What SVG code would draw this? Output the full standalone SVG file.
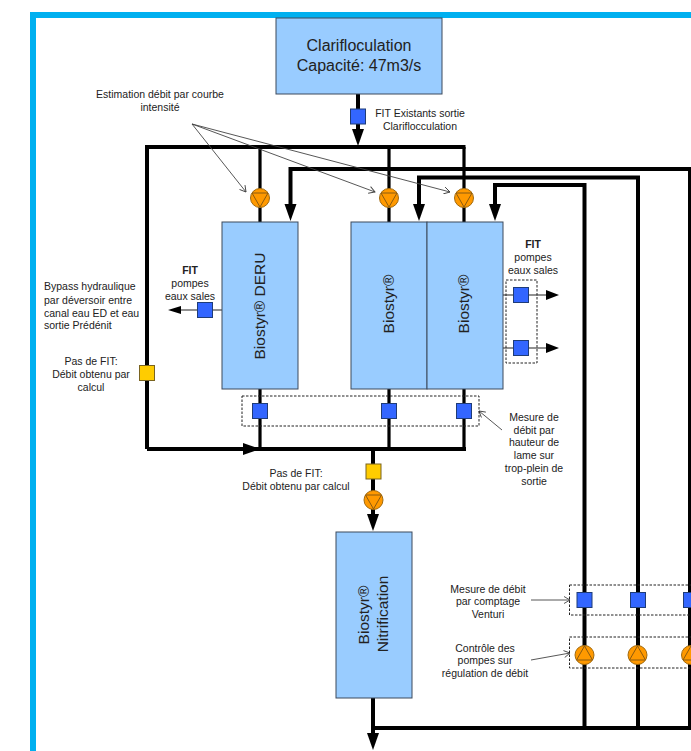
<svg xmlns="http://www.w3.org/2000/svg" width="691" height="751" viewBox="0 0 691 751">
<style>
text{font-family:"Liberation Sans",Arial,sans-serif;fill:#222;font-size:10.500px;text-anchor:middle}
text.big{font-size:16px}
text.rot{font-size:15.500px}
text.left{text-anchor:start}
.box{fill:#99ccff;stroke:#3c4a5c;stroke-width:1}
.pipe{fill:none;stroke:#000;stroke-width:4}
.branch{fill:none;stroke:#000;stroke-width:3.200}
.thin{fill:none;stroke:#222;stroke-width:1.200}
.note{fill:none;stroke:#444;stroke-width:.9}
.dash{fill:none;stroke:#222;stroke-width:1;stroke-dasharray:2.500 1.500}
.fit{fill:#3366ff;stroke:#1f3c78;stroke-width:1}
.yel{fill:#ffcc00;stroke:#7a6420;stroke-width:1}
.pc{fill:#ff9900;stroke:#a06a10;stroke-width:1}
.pt{fill:none;stroke:#8a5a10;stroke-width:1}
.head{fill:#000}
</style>
<defs>
<marker id="open" markerWidth="8" markerHeight="8" refX="7" refY="4" orient="auto" markerUnits="userSpaceOnUse"><path d="M1 .5L7 4L1 7.500" fill="none" stroke="#444" stroke-width=".9"/></marker>
<g id="pd"><circle r="9.500" class="pc"/><path d="M-8-5H8L0 9Z" class="pt"/></g>
<g id="pu"><circle r="9.500" class="pc"/><path d="M-8 5H8L0-9Z" class="pt"/></g>
<path id="ad" d="M-6-17H6L0 0Z" class="head"/>
</defs>
<rect width="691" height="751" fill="#fff"/>
<path d="M30 751V12H691V18H36V751Z" fill="#00b0f0"/>

<g id="connectors">
<path class="pipe" d="M358 94V130M147 449V147H465.500"/>
<path class="branch" d="M260 147V222M389 147V222M464 147V222"/>
<path class="pipe" d="M290.500 205V169H690V728"/>
<path class="pipe" d="M419 205V177.500H638V728"/>
<path class="pipe" d="M495 205V185H584.500V728"/>
<path class="pipe" d="M147 449H466M373 449V515"/>
<path class="branch" d="M260 389V449M389 389V449M464 389V449"/>
<path class="pipe" d="M373 698V736M373 728H691"/>
<use href="#ad" x="358" y="146"/>
<use href="#ad" x="290.500" y="221"/>
<use href="#ad" x="419" y="221"/>
<use href="#ad" x="495" y="221"/>
<use href="#ad" x="373" y="531"/>
<use href="#ad" x="373" y="750"/>
<path class="head" d="M260 449L243 443V455Z"/>
<path class="thin" d="M222 310H178M503 295H550M427 348H550"/>
<path class="head" d="M168 310L181 306V314ZM559 295L546 290V300ZM559 348L546 343V353Z"/>
<path class="note" marker-end="url(#open)" d="M192 124L246 192"/>
<path class="note" marker-end="url(#open)" d="M192 124L375 192"/>
<path class="note" marker-end="url(#open)" d="M192 124L450 192"/>
<path class="note" marker-end="url(#open)" d="M502 430L479 411"/>
<path class="note" marker-end="url(#open)" d="M531 600H570"/>
<path class="note" marker-end="url(#open)" d="M531 660L570 653"/>
</g>

<g id="clarifloculation"><rect class="box" x="276" y="18" width="166" height="76"/><text class="big" x="359" y="51">Clarifloculation</text><text class="big" x="359" y="71">Capacité: 47m3/s</text></g>
<g id="deru"><rect class="box" x="222" y="222" width="76" height="167"/><text class="rot" transform="translate(265 306) rotate(-90)">Biostyr® DERU</text></g>
<g id="biostyr1"><rect class="box" x="351" y="222" width="76" height="167"/><text class="rot" transform="translate(394 304) rotate(-90)">Biostyr®</text></g>
<g id="biostyr2"><rect class="box" x="427" y="222" width="76" height="167"/><text class="rot" transform="translate(469 304) rotate(-90)">Biostyr®</text></g>
<g id="nitrification"><rect class="box" x="336" y="532" width="76" height="166"/><text class="rot" transform="translate(369 615) rotate(-90)">Biostyr®</text><text class="rot" transform="translate(388 614) rotate(-90)">Nitrification</text></g>

<g id="dashed-frames">
<rect class="dash" x="242" y="396" width="237" height="30"/>
<rect class="dash" x="506" y="280" width="31" height="83"/>
<rect class="dash" x="569.500" y="585" width="125" height="30"/>
<rect class="dash" x="569.500" y="637" width="125" height="31"/>
</g>

<g id="fit-main"><rect class="fit" x="350.500" y="109" width="15" height="15"/></g>
<g id="fit-deru"><rect class="fit" x="197.500" y="302.500" width="15" height="15"/></g>
<g id="fit-r1"><rect class="fit" x="513.500" y="287.500" width="15" height="15"/></g>
<g id="fit-r2"><rect class="fit" x="513.500" y="340.500" width="15" height="15"/></g>
<g id="fit-o1"><rect class="fit" x="252.500" y="403.500" width="15" height="15"/></g>
<g id="fit-o2"><rect class="fit" x="381.500" y="403.500" width="15" height="15"/></g>
<g id="fit-o3"><rect class="fit" x="456.500" y="403.500" width="15" height="15"/></g>
<g id="fit-v1"><rect class="fit" x="577" y="592.500" width="15" height="15"/></g>
<g id="fit-v2"><rect class="fit" x="630.500" y="592.500" width="15" height="15"/></g>
<g id="fit-v3"><rect class="fit" x="683.500" y="592.500" width="15" height="15"/></g>
<g id="yellow-left"><rect class="yel" x="139.500" y="365.500" width="15" height="15"/></g>
<g id="yellow-mid"><rect class="yel" x="366" y="464" width="15" height="15"/></g>

<g id="pump1"><use href="#pd" x="260" y="198"/></g>
<g id="pump2"><use href="#pd" x="389" y="198"/></g>
<g id="pump3"><use href="#pd" x="464" y="198"/></g>
<g id="pump4"><use href="#pd" x="373.500" y="500"/></g>
<g id="pump5"><use href="#pu" x="584.500" y="655"/></g>
<g id="pump6"><use href="#pu" x="637.500" y="655"/></g>
<g id="pump7"><use href="#pu" x="691" y="655"/></g>

<g id="labels">
<text x="160" y="98">Estimation débit par courbe</text><text x="160" y="111">intensité</text>
<text x="420" y="117">FIT Existants sortie</text><text x="420" y="130">Clariflocculation</text>
<text x="190" y="274" font-weight="bold">FIT</text><text x="190" y="287">pompes</text><text x="190" y="300">eaux sales</text>
<text class="left" x="44" y="290">Bypass hydraulique</text><text class="left" x="44" y="304">par déversoir entre</text><text class="left" x="44" y="317">canal eau ED et eau</text><text class="left" x="44" y="329">sortie Prédénit</text>
<text x="91" y="365">Pas de FIT:</text><text x="91" y="378">Débit obtenu par</text><text x="91" y="391">calcul</text>
<text x="296" y="477">Pas de FIT:</text><text x="296" y="490">Débit obtenu par calcul</text>
<text x="533" y="248" font-weight="bold">FIT</text><text x="533" y="261">pompes</text><text x="533" y="274">eaux sales</text>
<text x="534" y="421">Mesure de</text><text x="534" y="434">débit par</text><text x="534" y="446">hauteur de</text><text x="534" y="459">lame sur</text><text x="534" y="472">trop-plein de</text><text x="534" y="485">sortie</text>
<text x="488" y="593">Mesure de débit</text><text x="488" y="605">par comptage</text><text x="488" y="618">Venturi</text>
<text x="485" y="652">Contrôle des</text><text x="485" y="664">pompes sur</text><text x="485" y="677">régulation de débit</text>
</g>
</svg>
